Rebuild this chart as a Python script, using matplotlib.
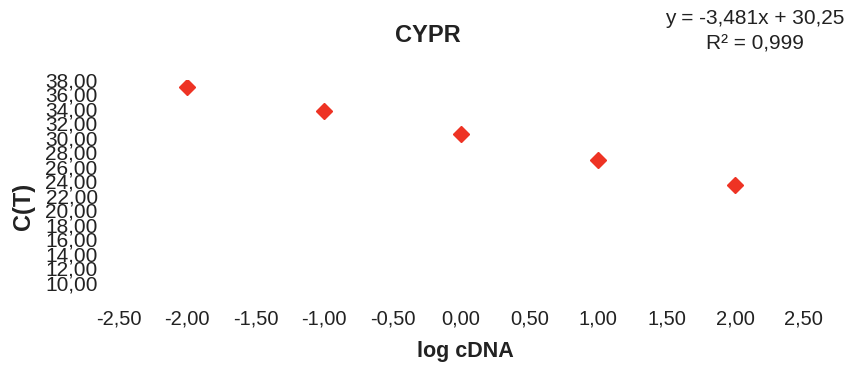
import matplotlib
matplotlib.use('Agg')
import matplotlib.pyplot as plt
from matplotlib.ticker import FuncFormatter

plt.rcParams['font.family'] = ['Liberation Sans', 'DejaVu Sans']

# данные
log_cdna = [-2.0, -1.0, 0.0, 1.0, 2.0]
ct = [37.1, 33.7, 30.5, 26.9, 23.5]
x_ticks = [-2.5, -2.0, -1.5, -1.0, -0.5, 0.0, 0.5, 1.0, 1.5, 2.0, 2.5]
y_ticks = list(range(10, 39, 2))


def comma(v, pos=None):
    return f"{v:.2f}".replace('.', ',')


fig = plt.figure(figsize=(8.59, 3.67), dpi=100)
ax = fig.add_axes([118.5 / 859, 1 - 283 / 367, 685 / 859, 203 / 367])

ax.plot(log_cdna, ct, linestyle='none', marker='D', markersize=8, color='#ee3324')

ax.set_xlim(-2.5, 2.5)
ax.set_ylim(10, 38)
ax.set_xticks(x_ticks)
ax.set_yticks(y_ticks)
ax.xaxis.set_major_formatter(FuncFormatter(comma))
ax.yaxis.set_major_formatter(FuncFormatter(comma))
ax.tick_params(axis='both', length=0, colors='#222222')
ax.tick_params(axis='x', pad=19, labelsize=14.5)
ax.tick_params(axis='y', pad=15, labelsize=15)
for s in ax.spines.values():
    s.set_visible(False)

fig.text(428 / 859, 1 - 36 / 367, 'CYPR', ha='center', va='center', fontsize=17, fontweight='bold', color='#222222')
fig.text(24 / 859, 1 - 206 / 367, 'C(T)', ha='center', va='center', rotation=90, fontsize=17, fontweight='bold',
         color='#222222')
fig.text(465 / 859, 1 - 352 / 367, 'log cDNA', ha='center', va='center', fontsize=15.5, fontweight='bold',
         color='#222222')
fig.text(755 / 859, 1 - 31 / 367, 'y = -3,481x + 30,25\nR² = 0,999', ha='center', va='center',
         fontsize=15, linespacing=1.4, color='#222222')

fig.savefig('out.png', dpi=100)
